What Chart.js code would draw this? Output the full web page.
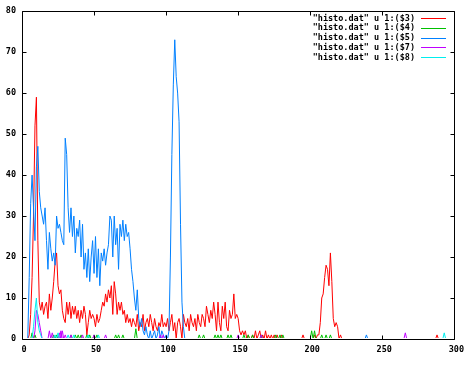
<!DOCTYPE html>
<html>
<head>
<meta charset="utf-8">
<script src="https://cdn.jsdelivr.net/npm/chart.js@4.4.1/dist/chart.umd.min.js"></script>
<style>
  html, body { margin: 0; padding: 0; background: #fff; }
</style>
</head>
<body>
<canvas id="c" width="468" height="385"></canvas>
<script>
'use strict';

/* ── Datos (x = índice de bin) ── */

const xTicks = [0, 50, 100, 150, 200, 250, 300];
const yTicks = [0, 10, 20, 30, 40, 50, 60, 70, 80];

const labels = [
  '"histo.dat" u 1:($3)',
  '"histo.dat" u 1:($4)',
  '"histo.dat" u 1:($5)',
  '"histo.dat" u 1:($7)',
  '"histo.dat" u 1:($8)'
];

// columna $3, x = 0..222
const col3 = [
  0, 0, 0, 0, 0, 1, 6, 15, 30, 52,
  59, 24, 9, 7, 9, 6, 8, 9, 5, 11,
  7, 10, 14, 19, 21, 13, 11, 12, 7, 5,
  4, 9, 6, 9, 5, 8, 6, 8, 5, 7,
  4, 7, 5, 8, 6, 1, 4, 7, 5, 6,
  5, 3, 6, 4, 5, 7, 9, 8, 11, 9,
  12, 10, 13, 6, 14, 11, 6, 9, 7, 9,
  6, 7, 4, 6, 4, 5, 3, 5, 4, 3,
  6, 2, 4, 3, 6, 2, 4, 5, 3, 6,
  4, 2, 5, 3, 2, 4, 3, 6, 3, 4,
  3, 5, 2, 4, 6, 2, 4, 0, 4, 5,
  3, 0, 6, 4, 3, 5, 2, 6, 4, 3,
  5, 2, 6, 4, 3, 6, 5, 3, 8, 6,
  4, 7, 5, 9, 6, 2, 9, 4, 2, 8,
  5, 9, 3, 2, 7, 5, 6, 11, 5, 6,
  5, 2, 1, 2, 1, 2, 0, 1, 0, 0,
  1, 0, 2, 0, 1, 2, 0, 1, 0, 2,
  0, 1, 0, 1, 0, 1, 0, 1, 0, 0,
  1, 0, 0, 0, 0, 0, 0, 0, 0, 0,
  0, 0, 0, 0, 0, 1, 0, 0, 0, 0,
  0, 0, 0, 1, 0, 1, 1, 4, 10, 11,
  15, 18, 17, 13, 21, 14, 5, 3, 4, 3,
  0, 1, 0
];

// columna $5, x = 0..113
const col5 = [
  0, 0, 0, 0, 0, 15, 33, 40, 32, 24,
  42, 47, 36, 32, 30, 28, 32, 24, 17, 26,
  22, 19, 21, 18, 30, 27, 28, 26, 24, 23,
  49, 45, 32, 26, 32, 25, 30, 21, 27, 25,
  29, 20, 28, 17, 21, 15, 22, 14, 20, 24,
  16, 25, 15, 22, 13, 21, 19, 22, 18, 21,
  23, 30, 29, 20, 30, 23, 27, 17, 28, 25,
  29, 24, 28, 25, 26, 22, 17, 14, 10, 7,
  12, 5, 3, 5, 2, 1, 3, 1, 0, 2,
  0, 1, 2, 0, 1, 3, 0, 2, 1, 0,
  1, 0, 2, 20, 45, 62, 73, 64, 60, 53,
  28, 9, 3, 0
];

// columnas $7 y $8, x = 0..14
const col7 = [0, 0, 0, 0, 0, 0, 0, 0, 0, 2, 7, 6, 4, 2, 0];
const col8 = [0, 0, 0, 0, 0, 0, 0, 0, 3, 7, 10, 4, 2, 1, 0];
const col4 = [];

// picos aislados sobre la línea base: [x, altura]
const blips3 = [[288, 1]];
const blips4 = [
  [7, 1.5], [9, 1], [22, 1], [24, 1], [34, 1], [37, 1], [39, 1], [41, 1],
  [45, 1], [47, 1], [50, 1], [52, 1], [65, 1], [67, 1], [70, 1], [79, 2.5],
  [123, 1], [126, 1], [134, 1], [136, 1], [138, 1], [143, 1], [145, 1],
  [154, 1], [157, 1], [160, 1], [166, 1], [176, 1], [179, 1], [181, 1],
  [201, 2], [203, 2], [208, 1], [211, 1], [214, 1]
];
const blips5 = [[239, 1]];
const blips7 = [
  [19, 2], [21, 1.5], [26, 1.5], [27, 2], [28, 2], [30, 1], [34, 1], [42, 1],
  [50, 1], [58, 1], [96, 1], [98, 1], [150, 1], [166, 1], [266, 1.5]
];
const blips8 = [[23, 1], [25, 1.5], [32, 1], [36, 1], [46, 1], [53, 1], [293, 1.5]];

const colors = ['#ff0000', '#00c000', '#0080ff', '#c000ff', '#00eeee'];

/* ── Construcción de series ── */

function series(dense, blips) {
  const pts = dense.map((v, i) => ({ x: i, y: v }));
  blips.forEach(([bx, h]) => {
    pts.push({ x: bx - 1, y: 0 }, { x: bx, y: h }, { x: bx + 1, y: 0 });
  });
  return pts;
}

const allData = [
  series(col3, blips3),
  series(col4, blips4),
  series(col5, blips5),
  series(col7, blips7),
  series(col8, blips8)
];

const FONT = { family: "'DejaVu Sans Mono', monospace", size: 8.5, weight: 'bold' };

/* ── Marco, marcas interiores y leyenda estilo gnuplot ── */
const gnuFrame = {
  id: 'gnuFrame',
  afterDatasetsDraw(chart) {
    const { ctx, chartArea: a, scales: { x, y } } = chart;
    const L = Math.floor(a.left) + 0.5, R = Math.floor(a.right) + 0.5;
    const T = Math.floor(a.top) + 0.5, B = Math.floor(a.bottom) + 0.5;
    const TL = 4;

    ctx.save();
    ctx.strokeStyle = '#000';
    ctx.lineWidth = 1;
    ctx.beginPath();
    ctx.rect(L, T, R - L, B - T);
    x.ticks.forEach(t => {
      const px = Math.floor(x.getPixelForValue(t.value)) + 0.5;
      ctx.moveTo(px, B); ctx.lineTo(px, B - TL);
      ctx.moveTo(px, T); ctx.lineTo(px, T + TL);
    });
    y.ticks.forEach(t => {
      const py = Math.floor(y.getPixelForValue(t.value)) + 0.5;
      ctx.moveTo(L, py); ctx.lineTo(L + TL, py);
      ctx.moveTo(R, py); ctx.lineTo(R - TL, py);
    });
    ctx.stroke();

    ctx.font = `${FONT.weight} ${FONT.size}px ${FONT.family}`;
    ctx.textAlign = 'right';
    ctx.textBaseline = 'middle';
    chart.data.datasets.forEach((ds, i) => {
      const ly = 18.5 + i * 9.75;
      ctx.fillStyle = '#000';
      ctx.fillText(ds.label, 415, ly);
      ctx.strokeStyle = ds.borderColor;
      ctx.beginPath();
      ctx.moveTo(421, Math.floor(ly) + 0.5);
      ctx.lineTo(446, Math.floor(ly) + 0.5);
      ctx.stroke();
    });
    ctx.restore();
  }
};

new Chart(document.getElementById('c'), {
  type: 'line',
  data: {
    datasets: allData.map((d, i) => ({
      label: labels[i],
      data: d,
      borderColor: colors[i],
      borderWidth: 1,
      pointRadius: 0,
      tension: 0,
      fill: false,
      order: allData.length - i,
      clip: { left: 0, top: 0, right: 0, bottom: -1 }
    }))
  },
  options: {
    responsive: false,
    animation: false,
    devicePixelRatio: 1,
    layout: { padding: { top: 11, right: 12, left: 0, bottom: 0 } },
    plugins: { legend: { display: false }, tooltip: { enabled: false } },
    scales: {
      x: {
        type: 'linear',
        min: xTicks[0],
        max: xTicks[xTicks.length - 1],
        afterFit: s => { s.height = 46; },
        grid: { display: false, drawTicks: false },
        border: { display: false },
        ticks: {
          stepSize: xTicks[1] - xTicks[0],
          padding: 6,
          labelOffset: 2,
          maxRotation: 0,
          color: '#000',
          font: FONT
        }
      },
      y: {
        min: yTicks[0],
        max: yTicks[yTicks.length - 1],
        afterFit: s => { s.width = 22; },
        grid: { display: false, drawTicks: false },
        border: { display: false },
        ticks: {
          stepSize: yTicks[1] - yTicks[0],
          padding: 6,
          color: '#000',
          font: FONT
        }
      }
    }
  },
  plugins: [gnuFrame]
});
</script>
</body>
</html>
